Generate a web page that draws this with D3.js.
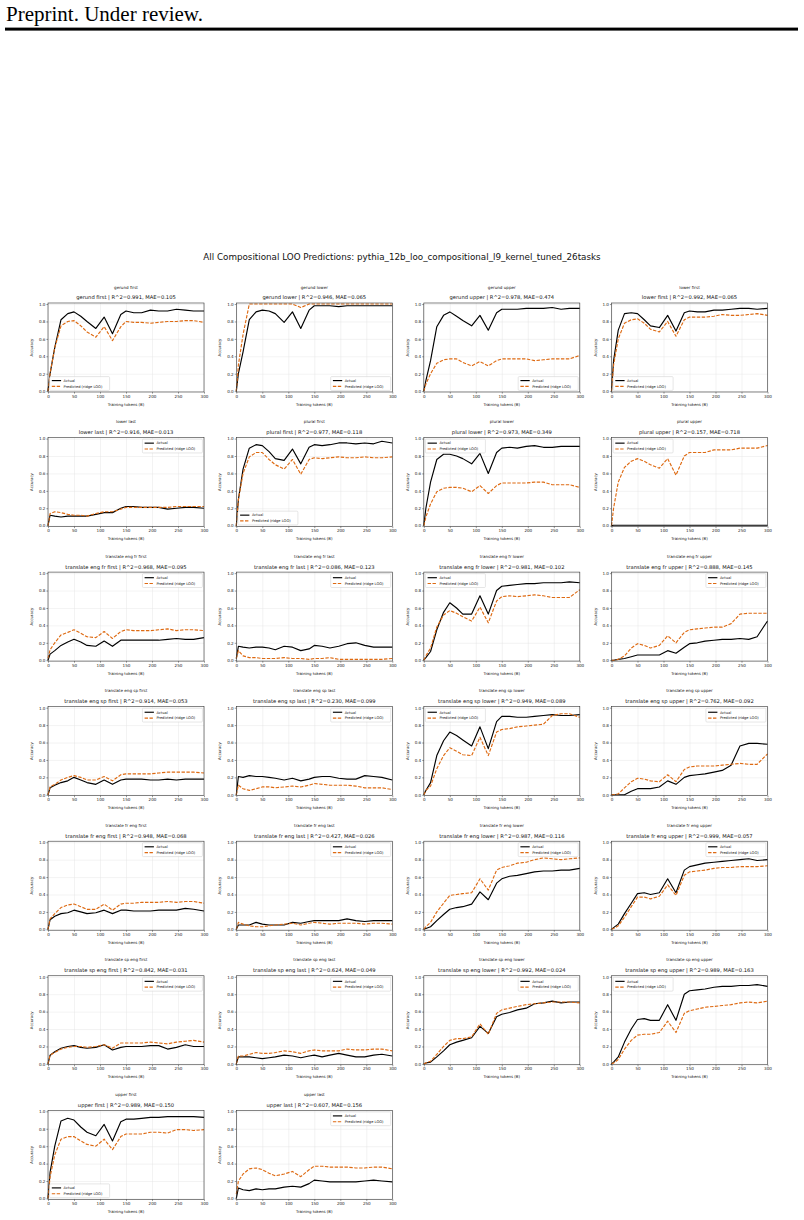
<!DOCTYPE html>
<html>
<head>
<meta charset="utf-8">
<script src="https://cdn.jsdelivr.net/npm/d3@7"></script>
<style>
  body { margin: 0; background: #fff; }
  svg { display: block; }
  .axis text { font-family: "DejaVu Sans", sans-serif; fill: #222; }
  .axis line { stroke: #333; stroke-width: 0.5; }
  .axis path { display: none; }
  .grid line { stroke: #e4e4e4; stroke-width: 0.45; }
  .grid path { display: none; }
</style>
</head>
<body>
<div id="chart"></div>
<script>
const xTokens = [0, 4, 13, 25, 38, 50, 63, 75, 92, 108, 124, 140, 150, 165, 180, 197, 213, 230, 247, 264, 280, 300];
const xTicks = [0, 50, 100, 150, 200, 250, 300];
const yTicks = [0, 0.2, 0.4, 0.6, 0.8, 1.0];

const tasks = [
  "gerund first", "gerund lower", "gerund upper", "lower first",
  "lower last", "plural first", "plural lower", "plural upper",
  "translate eng fr first", "translate eng fr last", "translate eng fr lower", "translate eng fr upper",
  "translate eng sp first", "translate eng sp last", "translate eng sp lower", "translate eng sp upper",
  "translate fr eng first", "translate fr eng last", "translate fr eng lower", "translate fr eng upper",
  "translate sp eng first", "translate sp eng last", "translate sp eng lower", "translate sp eng upper",
  "upper first", "upper last"
];

const r2 = [0.991, 0.946, 0.978, 0.992, 0.916, 0.977, 0.973, 0.157, 0.968, 0.086, 0.981, 0.888, 0.914,
  0.230, 0.949, 0.762, 0.948, 0.427, 0.987, 0.999, 0.842, 0.624, 0.992, 0.989, 0.989, 0.607];
const mae = [0.105, 0.065, 0.474, 0.065, 0.013, 0.118, 0.349, 0.718, 0.095, 0.123, 0.102, 0.145, 0.053,
  0.099, 0.089, 0.092, 0.068, 0.026, 0.116, 0.057, 0.031, 0.049, 0.024, 0.163, 0.150, 0.156];

const actual = {
  "gerund first": [0.0, 0.2, 0.5, 0.82, 0.89, 0.91, 0.86, 0.80, 0.72, 0.85, 0.66, 0.88, 0.92, 0.90, 0.90, 0.93, 0.92, 0.92, 0.94, 0.93, 0.92, 0.92],
  "gerund lower": [0.0, 0.2, 0.45, 0.82, 0.91, 0.93, 0.92, 0.89, 0.79, 0.91, 0.72, 0.93, 0.98, 0.98, 0.98, 0.97, 0.98, 0.98, 0.98, 0.98, 0.98, 0.98],
  "gerund upper": [0.0, 0.12, 0.35, 0.74, 0.87, 0.91, 0.86, 0.81, 0.75, 0.87, 0.70, 0.90, 0.94, 0.94, 0.94, 0.95, 0.95, 0.95, 0.96, 0.94, 0.95, 0.95],
  "lower first": [0.0, 0.35, 0.7, 0.89, 0.90, 0.89, 0.82, 0.75, 0.73, 0.87, 0.69, 0.90, 0.92, 0.91, 0.91, 0.93, 0.93, 0.94, 0.95, 0.95, 0.94, 0.95],
  "lower last": [0.0, 0.12, 0.11, 0.10, 0.11, 0.11, 0.11, 0.11, 0.13, 0.15, 0.15, 0.20, 0.22, 0.22, 0.21, 0.21, 0.21, 0.19, 0.20, 0.21, 0.21, 0.20],
  "plural first": [0.0, 0.3, 0.65, 0.89, 0.93, 0.92, 0.85, 0.77, 0.75, 0.88, 0.71, 0.90, 0.93, 0.92, 0.93, 0.95, 0.95, 0.94, 0.95, 0.94, 0.97, 0.95],
  "plural lower": [0.0, 0.2, 0.5, 0.76, 0.82, 0.82, 0.80, 0.77, 0.71, 0.83, 0.60, 0.84, 0.89, 0.90, 0.89, 0.91, 0.92, 0.90, 0.90, 0.91, 0.91, 0.91],
  "plural upper": [0.0, 0.005, 0.005, 0.005, 0.005, 0.005, 0.005, 0.005, 0.005, 0.005, 0.005, 0.005, 0.005, 0.005, 0.005, 0.005, 0.005, 0.005, 0.005, 0.005, 0.005, 0.005],
  "translate eng fr first": [0.0, 0.07, 0.11, 0.17, 0.21, 0.24, 0.21, 0.17, 0.16, 0.22, 0.16, 0.23, 0.23, 0.23, 0.23, 0.23, 0.23, 0.24, 0.25, 0.24, 0.24, 0.26],
  "translate eng fr last": [0.02, 0.16, 0.15, 0.14, 0.15, 0.15, 0.14, 0.12, 0.16, 0.15, 0.11, 0.13, 0.17, 0.16, 0.14, 0.16, 0.19, 0.20, 0.17, 0.15, 0.15, 0.15],
  "translate eng fr lower": [0.0, 0.03, 0.1, 0.35, 0.55, 0.66, 0.60, 0.53, 0.53, 0.74, 0.53, 0.80, 0.85, 0.86, 0.87, 0.88, 0.88, 0.89, 0.89, 0.89, 0.90, 0.89],
  "translate eng fr upper": [0.0, 0.0, 0.01, 0.02, 0.04, 0.06, 0.06, 0.06, 0.06, 0.11, 0.08, 0.15, 0.19, 0.20, 0.22, 0.23, 0.24, 0.24, 0.25, 0.24, 0.27, 0.45],
  "translate eng sp first": [0.0, 0.08, 0.11, 0.14, 0.16, 0.20, 0.17, 0.14, 0.12, 0.17, 0.12, 0.17, 0.18, 0.18, 0.18, 0.17, 0.17, 0.18, 0.17, 0.18, 0.18, 0.18],
  "translate eng sp last": [0.0, 0.21, 0.20, 0.22, 0.21, 0.21, 0.20, 0.19, 0.17, 0.19, 0.16, 0.18, 0.20, 0.21, 0.21, 0.19, 0.18, 0.18, 0.22, 0.21, 0.20, 0.17],
  "translate eng sp lower": [0.0, 0.05, 0.14, 0.45, 0.62, 0.72, 0.68, 0.63, 0.56, 0.78, 0.53, 0.84, 0.90, 0.90, 0.89, 0.89, 0.90, 0.91, 0.92, 0.91, 0.91, 0.92],
  "translate eng sp upper": [0.0, 0.0, 0.0, 0.0, 0.04, 0.07, 0.07, 0.07, 0.09, 0.16, 0.12, 0.20, 0.22, 0.23, 0.24, 0.26, 0.28, 0.34, 0.56, 0.59, 0.59, 0.58],
  "translate fr eng first": [0.0, 0.11, 0.15, 0.18, 0.19, 0.22, 0.20, 0.18, 0.19, 0.22, 0.18, 0.22, 0.22, 0.21, 0.21, 0.21, 0.22, 0.22, 0.22, 0.24, 0.23, 0.21],
  "translate fr eng last": [0.0, 0.05, 0.05, 0.05, 0.08, 0.06, 0.05, 0.05, 0.05, 0.08, 0.07, 0.09, 0.10, 0.10, 0.10, 0.10, 0.12, 0.10, 0.09, 0.10, 0.10, 0.10],
  "translate fr eng lower": [0.0, 0.01, 0.03, 0.10, 0.17, 0.23, 0.25, 0.26, 0.29, 0.43, 0.34, 0.53, 0.58, 0.61, 0.62, 0.64, 0.66, 0.67, 0.67, 0.68, 0.68, 0.70],
  "translate fr eng upper": [0.0, 0.02, 0.06, 0.18, 0.30, 0.41, 0.42, 0.40, 0.42, 0.58, 0.42, 0.68, 0.72, 0.74, 0.76, 0.77, 0.78, 0.79, 0.80, 0.81, 0.79, 0.80],
  "translate sp eng first": [0.0, 0.10, 0.14, 0.18, 0.20, 0.21, 0.19, 0.18, 0.19, 0.22, 0.16, 0.19, 0.20, 0.20, 0.20, 0.21, 0.21, 0.17, 0.19, 0.22, 0.20, 0.20],
  "translate sp eng last": [0.0, 0.08, 0.08, 0.08, 0.07, 0.06, 0.07, 0.08, 0.10, 0.09, 0.07, 0.09, 0.10, 0.08, 0.10, 0.12, 0.10, 0.08, 0.08, 0.10, 0.11, 0.09],
  "translate sp eng lower": [0.0, 0.01, 0.02, 0.08, 0.15, 0.22, 0.25, 0.27, 0.30, 0.43, 0.35, 0.54, 0.57, 0.59, 0.62, 0.64, 0.69, 0.70, 0.72, 0.70, 0.71, 0.71],
  "translate sp eng upper": [0.0, 0.02, 0.08, 0.25, 0.40, 0.51, 0.52, 0.50, 0.50, 0.68, 0.50, 0.80, 0.84, 0.85, 0.86, 0.88, 0.89, 0.89, 0.90, 0.90, 0.91, 0.89],
  "upper first": [0.0, 0.3, 0.6, 0.89, 0.92, 0.90, 0.82, 0.76, 0.72, 0.85, 0.66, 0.88, 0.91, 0.91, 0.92, 0.93, 0.93, 0.94, 0.94, 0.94, 0.94, 0.93],
  "upper last": [0.0, 0.12, 0.10, 0.09, 0.11, 0.10, 0.11, 0.11, 0.13, 0.14, 0.13, 0.17, 0.21, 0.20, 0.19, 0.19, 0.19, 0.19, 0.20, 0.21, 0.20, 0.19]
};

const predicted = {
  "gerund first": [0.0, 0.2, 0.5, 0.75, 0.80, 0.81, 0.75, 0.68, 0.62, 0.74, 0.58, 0.74, 0.80, 0.79, 0.79, 0.78, 0.79, 0.80, 0.80, 0.81, 0.81, 0.79],
  "gerund lower": [0.0, 0.3, 0.65, 1.0, 1.0, 1.0, 1.0, 1.0, 1.0, 1.0, 0.96, 1.0, 1.0, 1.0, 1.0, 1.0, 1.0, 1.0, 1.0, 1.0, 1.0, 1.0],
  "gerund upper": [0.0, 0.08, 0.2, 0.32, 0.36, 0.37, 0.37, 0.33, 0.29, 0.34, 0.29, 0.35, 0.37, 0.37, 0.37, 0.37, 0.35, 0.36, 0.37, 0.37, 0.37, 0.41],
  "lower first": [0.0, 0.3, 0.6, 0.78, 0.82, 0.83, 0.78, 0.71, 0.68, 0.80, 0.63, 0.82, 0.85, 0.85, 0.85, 0.86, 0.88, 0.87, 0.87, 0.88, 0.89, 0.87],
  "lower last": [0.0, 0.14, 0.16, 0.15, 0.13, 0.12, 0.12, 0.11, 0.14, 0.16, 0.16, 0.19, 0.21, 0.21, 0.21, 0.21, 0.21, 0.21, 0.22, 0.22, 0.22, 0.22],
  "plural first": [0.0, 0.3, 0.6, 0.79, 0.84, 0.84, 0.76, 0.70, 0.65, 0.76, 0.59, 0.76, 0.78, 0.77, 0.78, 0.79, 0.78, 0.78, 0.79, 0.78, 0.78, 0.79],
  "plural lower": [0.0, 0.1, 0.25, 0.39, 0.43, 0.44, 0.44, 0.43, 0.39, 0.46, 0.37, 0.46, 0.49, 0.49, 0.49, 0.49, 0.50, 0.50, 0.47, 0.47, 0.47, 0.44],
  "plural upper": [0.0, 0.2, 0.5, 0.67, 0.74, 0.77, 0.74, 0.70, 0.66, 0.77, 0.58, 0.80, 0.84, 0.84, 0.84, 0.87, 0.87, 0.87, 0.89, 0.89, 0.89, 0.92],
  "translate eng fr first": [0.02, 0.12, 0.2, 0.29, 0.32, 0.35, 0.31, 0.27, 0.26, 0.33, 0.25, 0.33, 0.35, 0.34, 0.34, 0.34, 0.35, 0.36, 0.34, 0.35, 0.35, 0.34],
  "translate eng fr last": [0.02, 0.11, 0.05, 0.03, 0.03, 0.02, 0.02, 0.02, 0.03, 0.02, 0.02, 0.01, 0.02, 0.02, 0.03, 0.01, 0.01, 0.01, 0.01, 0.01, 0.01, 0.02],
  "translate eng fr lower": [0.0, 0.05, 0.14, 0.38, 0.52, 0.57, 0.54, 0.50, 0.45, 0.61, 0.43, 0.68, 0.73, 0.74, 0.73, 0.74, 0.75, 0.74, 0.72, 0.72, 0.72, 0.81],
  "translate eng fr upper": [0.0, 0.0, 0.01, 0.05, 0.14, 0.19, 0.17, 0.14, 0.17, 0.28, 0.20, 0.32, 0.35, 0.36, 0.37, 0.38, 0.38, 0.42, 0.53, 0.54, 0.54, 0.54],
  "translate eng sp first": [0.0, 0.09, 0.12, 0.17, 0.20, 0.22, 0.20, 0.17, 0.17, 0.21, 0.16, 0.23, 0.24, 0.24, 0.24, 0.24, 0.25, 0.26, 0.26, 0.26, 0.26, 0.25],
  "translate eng sp last": [0.0, 0.11, 0.07, 0.05, 0.07, 0.09, 0.09, 0.08, 0.09, 0.10, 0.09, 0.11, 0.13, 0.12, 0.11, 0.11, 0.11, 0.10, 0.08, 0.08, 0.08, 0.06],
  "translate eng sp lower": [0.0, 0.05, 0.1, 0.3, 0.45, 0.54, 0.50, 0.46, 0.45, 0.66, 0.45, 0.72, 0.75, 0.76, 0.78, 0.79, 0.80, 0.81, 0.91, 0.93, 0.93, 0.89],
  "translate eng sp upper": [0.0, 0.0, 0.01, 0.08, 0.15, 0.19, 0.18, 0.16, 0.15, 0.23, 0.15, 0.29, 0.32, 0.33, 0.33, 0.33, 0.34, 0.35, 0.36, 0.35, 0.35, 0.47],
  "translate fr eng first": [0.0, 0.12, 0.18, 0.25, 0.28, 0.29, 0.26, 0.23, 0.23, 0.29, 0.22, 0.29, 0.30, 0.30, 0.31, 0.31, 0.31, 0.32, 0.31, 0.32, 0.32, 0.30],
  "translate fr eng last": [0.0, 0.08, 0.06, 0.04, 0.03, 0.03, 0.04, 0.05, 0.06, 0.07, 0.05, 0.07, 0.08, 0.07, 0.06, 0.07, 0.07, 0.07, 0.06, 0.07, 0.07, 0.06],
  "translate fr eng lower": [0.0, 0.03, 0.08, 0.2, 0.3, 0.39, 0.40, 0.41, 0.42, 0.58, 0.45, 0.68, 0.71, 0.73, 0.76, 0.77, 0.80, 0.82, 0.81, 0.80, 0.81, 0.82],
  "translate fr eng upper": [0.0, 0.01, 0.04, 0.14, 0.26, 0.37, 0.37, 0.35, 0.38, 0.51, 0.39, 0.62, 0.66, 0.67, 0.68, 0.70, 0.71, 0.71, 0.72, 0.72, 0.72, 0.73],
  "translate sp eng first": [0.0, 0.10, 0.13, 0.17, 0.19, 0.20, 0.20, 0.19, 0.20, 0.22, 0.18, 0.24, 0.24, 0.24, 0.24, 0.25, 0.24, 0.23, 0.25, 0.26, 0.27, 0.25],
  "translate sp eng last": [0.0, 0.09, 0.09, 0.11, 0.13, 0.12, 0.12, 0.13, 0.15, 0.14, 0.12, 0.15, 0.16, 0.15, 0.15, 0.15, 0.17, 0.16, 0.16, 0.17, 0.17, 0.15],
  "translate sp eng lower": [0.0, 0.01, 0.03, 0.11, 0.2, 0.27, 0.29, 0.29, 0.31, 0.46, 0.34, 0.58, 0.62, 0.64, 0.66, 0.68, 0.69, 0.70, 0.71, 0.71, 0.71, 0.70],
  "translate sp eng upper": [0.0, 0.01, 0.05, 0.17, 0.27, 0.33, 0.34, 0.34, 0.36, 0.49, 0.36, 0.58, 0.61, 0.63, 0.65, 0.66, 0.67, 0.68, 0.70, 0.71, 0.70, 0.72],
  "upper first": [0.0, 0.25, 0.5, 0.68, 0.71, 0.71, 0.66, 0.62, 0.60, 0.68, 0.56, 0.71, 0.74, 0.74, 0.74, 0.76, 0.76, 0.75, 0.79, 0.79, 0.78, 0.79],
  "upper last": [0.05, 0.2, 0.28, 0.34, 0.35, 0.33, 0.29, 0.26, 0.28, 0.31, 0.25, 0.33, 0.37, 0.37, 0.36, 0.36, 0.36, 0.35, 0.35, 0.36, 0.36, 0.34]
};

// where matplotlib put each legend ("best")
const legendLoc = {
  "gerund first": "ll", "gerund lower": "lr", "gerund upper": "lr", "lower first": "ll",
  "plural first": "ll", "plural lower": "ul", "plural upper": "ul",
  "translate eng fr lower": "ul", "translate eng sp lower": "ul", "translate sp eng upper": "ul",
  "upper first": "ll"
};

const W = 804, H = 1220;
const orange = "#de6a12";
const font = "'DejaVu Sans', sans-serif";

const svg = d3.select("#chart").append("svg").attr("width", W).attr("height", H);
svg.append("rect").attr("width", W).attr("height", H).attr("fill", "#fff");

// page header from the paper
svg.append("text")
  .attr("x", 6).attr("y", 21)
  .attr("font-family", "'Liberation Serif', serif")
  .attr("font-size", 21)
  .attr("fill", "#000")
  .text("Preprint. Under review.");
svg.append("rect").attr("x", 5).attr("y", 27.6).attr("width", 793).attr("height", 3).attr("fill", "#000");

svg.append("text")
  .attr("x", 402).attr("y", 260)
  .attr("text-anchor", "middle")
  .attr("font-family", font)
  .attr("font-size", 8.75)
  .attr("fill", "#111")
  .text("All Compositional LOO Predictions: pythia_12b_loo_compositional_l9_kernel_tuned_26tasks");

const colLeft = [48, 236.3, 423.8, 611.5];
const rowTop0 = 303, rowStep = 134.55;
const pw = 156, ph = 89;

tasks.forEach((task, i) => {
  const col = i % 4, row = Math.floor(i / 4);
  const left = colLeft[col], top = rowTop0 + row * rowStep;
  const g = svg.append("g").attr("transform", `translate(${left},${top})`);

  const x = d3.scaleLinear().domain([0, 300]).range([0, pw]);
  const y = d3.scaleLinear().domain([-0.01, 1.012]).range([ph, 0]);

  // grid
  g.append("g").attr("class", "grid")
    .attr("transform", `translate(0,${ph})`)
    .call(d3.axisBottom(x).tickValues(xTicks).tickSize(-ph).tickFormat(""));
  g.append("g").attr("class", "grid")
    .call(d3.axisLeft(y).tickValues(yTicks).tickSize(-pw).tickFormat(""));

  // axes
  const xa = g.append("g").attr("class", "axis")
    .attr("transform", `translate(0,${ph})`)
    .call(d3.axisBottom(x).tickValues(xTicks).tickSize(1.6).tickPadding(1).tickFormat(d3.format("d")));
  xa.selectAll("text").attr("font-size", 4.1);
  const ya = g.append("g").attr("class", "axis")
    .call(d3.axisLeft(y).tickValues(yTicks).tickSize(1.6).tickPadding(1).tickFormat(d3.format(".1f")));
  ya.selectAll("text").attr("font-size", 4.1);

  const line = d3.line().x((d, j) => x(xTokens[j])).y((d) => y(d));

  g.append("path").datum(actual[task])
    .attr("fill", "none").attr("stroke", "#000").attr("stroke-width", 1.15)
    .attr("stroke-linejoin", "round")
    .attr("d", line);
  g.append("path").datum(predicted[task])
    .attr("fill", "none").attr("stroke", orange).attr("stroke-width", 1.15)
    .attr("stroke-dasharray", "3.4,1.5")
    .attr("stroke-linejoin", "round")
    .attr("d", line);

  // frame
  g.append("rect").attr("width", pw).attr("height", ph)
    .attr("fill", "none").attr("stroke", "#333").attr("stroke-width", 0.6);

  // titles
  g.append("text").attr("x", pw / 2).attr("y", -14.3)
    .attr("text-anchor", "middle").attr("font-family", font).attr("font-size", 4.1).attr("fill", "#111")
    .text(task);
  g.append("text").attr("x", pw / 2).attr("y", -3.6)
    .attr("text-anchor", "middle").attr("font-family", font).attr("font-size", 5.2).attr("fill", "#111")
    .text(`${task} | R^2=${r2[i].toFixed(3)}, MAE=${mae[i].toFixed(3)}`);

  g.append("text").attr("x", pw / 2).attr("y", ph + 13.6)
    .attr("text-anchor", "middle").attr("font-family", font).attr("font-size", 3.9).attr("fill", "#111")
    .text("Training tokens (B)");
  g.append("text")
    .attr("transform", `translate(-15,${ph / 2}) rotate(-90)`)
    .attr("text-anchor", "middle").attr("font-family", font).attr("font-size", 3.9).attr("fill", "#111")
    .text("Accuracy");

  // legend
  const loc = legendLoc[task] || "ur";
  const lw = 60, lh = 13.8, pad = 1.6;
  const lx = loc[1] === "r" ? pw - lw - pad : pad;
  const ly = loc[0] === "u" ? pad : ph - lh - pad;
  const lg = g.append("g").attr("transform", `translate(${lx},${ly})`);
  lg.append("rect").attr("width", lw).attr("height", lh).attr("rx", 1)
    .attr("fill", "#fff").attr("fill-opacity", 0.8)
    .attr("stroke", "#ccc").attr("stroke-width", 0.5);
  const entries = [
    { label: "Actual", color: "#000", dash: null },
    { label: "Predicted (ridge LOO)", color: orange, dash: "3.4,1.5" }
  ];
  entries.forEach((e, k) => {
    const cy = 4 + k * 5.8;
    lg.append("line").attr("x1", 2.2).attr("x2", 11.5).attr("y1", cy).attr("y2", cy)
      .attr("stroke", e.color).attr("stroke-width", 1.15)
      .attr("stroke-dasharray", e.dash);
    lg.append("text").attr("x", 14).attr("y", cy + 1.3)
      .attr("font-family", font).attr("font-size", 3.6).attr("fill", "#111")
      .text(e.label);
  });
});
</script>
</body>
</html>
